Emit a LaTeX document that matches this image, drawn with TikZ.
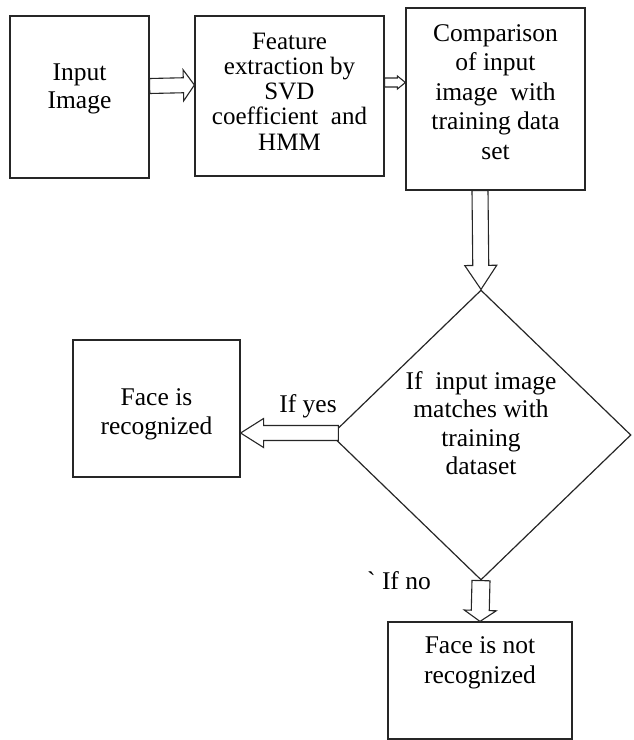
\documentclass[tikz,border=0pt]{standalone}
\usepackage{fontspec}
\setmainfont{Liberation Serif}
\usetikzlibrary{shapes.geometric,calc}

\tikzset{
  box/.style={draw=black!85, line width=1.2pt, align=center, inner sep=0pt,
    font=\fontsize{25.5}{28.5}\selectfont},
  decision/.style={diamond, draw=black!85, line width=1.2pt, inner sep=0pt,
    minimum width=300pt, minimum height=290pt},
  caption/.style={font=\fontsize{25.5}{28.5}\selectfont, align=center, inner sep=0pt},
  % hollow block arrow: half shaft width, half head width, head length
  blockarrow/.style n args={3}{to path={
    ($(\tikztostart)!#1!90:(\tikztotarget)$)
    -- ($($(\tikztotarget)!#3!(\tikztostart)$)!#1!90:(\tikztotarget)$)
    -- ($($(\tikztotarget)!#3!(\tikztostart)$)!#2!90:(\tikztotarget)$)
    -- (\tikztotarget)
    -- ($($(\tikztotarget)!#3!(\tikztostart)$)!#2!-90:(\tikztotarget)$)
    -- ($($(\tikztotarget)!#3!(\tikztostart)$)!#1!-90:(\tikztotarget)$)
    -- ($(\tikztostart)!#1!-90:(\tikztotarget)$)
    -- cycle}},
  flow/.style={draw=black!85, line width=1.1pt, fill=white, line join=miter},
}

\begin{document}
\begin{tikzpicture}[x=1pt, y=-1pt]
\useasboundingbox (0,0) rectangle (633,740);

% steps on top row
\node[box, minimum width=139pt, minimum height=162pt] (input) at (79.5,97)
  {Input\\Image\rule[-22pt]{0pt}{0pt}};
\node[box, minimum width=189pt, minimum height=160pt,
  font=\fontsize{25}{25.2}\selectfont] (feature) at (289.5,96)
  {Feature\\extraction by\\SVD\\coefficient~ and\\HMM\rule[-9pt]{0pt}{0pt}};
\node[box, minimum width=179pt, minimum height=182pt,
  font=\fontsize{25.5}{29.5}\selectfont] (compare) at (495.5,99)
  {Comparison\\of input\\image~ with\\training data\\set\rule[-14pt]{0pt}{0pt}};

% decision and outcomes
\node[decision] (match) at (481,435) {};
\node[caption] (matchtext) at (481,423)
  {If~ input image\\matches with\\training\\dataset};
\node[box, minimum width=167pt, minimum height=137pt] (recognized) at (156.5,408.5)
  {\rule{0pt}{28pt}Face is\\recognized};
\node[box, minimum width=184pt, minimum height=117pt,
  font=\fontsize{25.5}{30}\selectfont] (notrec) at (480,680.5)
  {Face is not\\recognized\rule[-40pt]{0pt}{0pt}};

\node[caption] (yes) at (308,406) {If yes};
\node[caption] (no) at (399,581) {\textasciigrave{} If no};

% connectors
\draw[flow] ([yshift=11pt]input.east) to[blockarrow={7.5pt}{15.5pt}{11pt}]
  ([yshift=11pt]feature.west);
\draw[flow] ([yshift=13.5pt]feature.east) to[blockarrow={4.5pt}{6.5pt}{8pt}]
  ([yshift=16.5pt]compare.west);
\draw[flow] ([xshift=-15.5pt]compare.south) to[blockarrow={8pt}{16pt}{24pt}]
  (match.north);
\draw[flow] ([xshift=8pt, yshift=2pt]match.west) to[blockarrow={7.5pt}{14.5pt}{23pt}]
  ([yshift=-24.5pt]recognized.east);
\draw[flow] (match.south) to[blockarrow={9pt}{16pt}{11pt}] (notrec.north);
\end{tikzpicture}
\end{document}
